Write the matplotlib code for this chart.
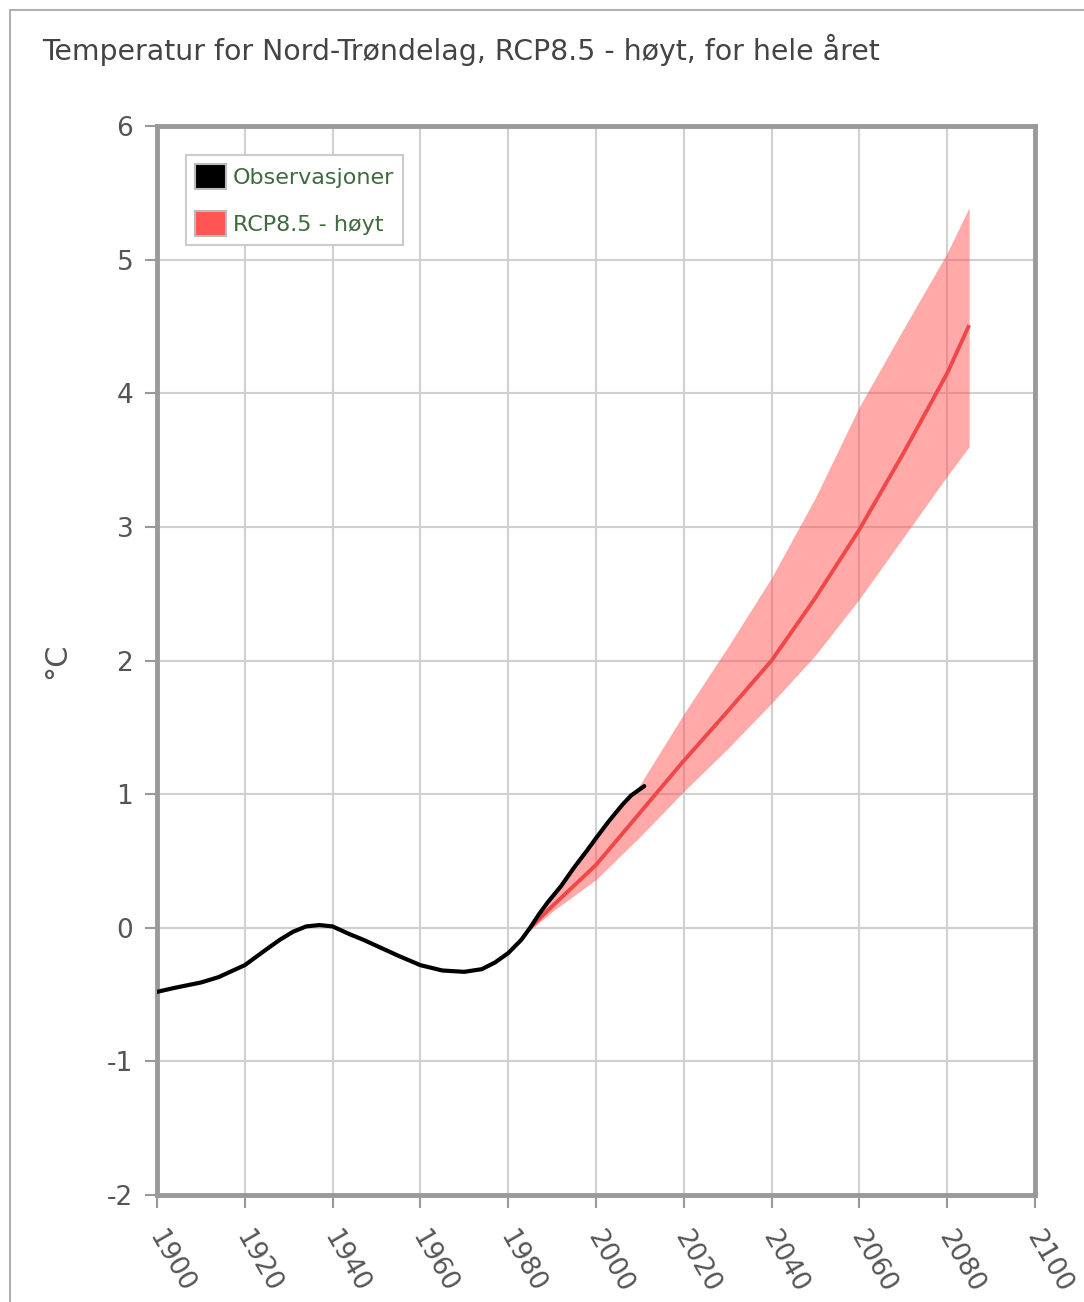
import matplotlib
matplotlib.use("Agg")
import matplotlib.pyplot as plt
from matplotlib.patches import Patch, Rectangle
import matplotlib.transforms as mtransforms

# Data
obs_years = [1900, 1904, 1910, 1914, 1920, 1925, 1928, 1931, 1934, 1937, 1940, 1944,
             1947, 1951, 1955, 1960, 1965, 1970, 1974, 1977, 1980, 1983, 1985, 1987,
             1989, 1992, 1995, 1998, 2000, 2003, 2006, 2008, 2011]
obs_values = [-0.48, -0.45, -0.41, -0.37, -0.28, -0.16, -0.09, -0.03, 0.01, 0.02, 0.01, -0.05,
              -0.09, -0.15, -0.21, -0.28, -0.32, -0.33, -0.31, -0.26, -0.19, -0.09, 0.00, 0.10,
              0.19, 0.31, 0.45, 0.58, 0.67, 0.80, 0.92, 0.99, 1.06]

rcp_years = [1985, 1990, 2000, 2010, 2020, 2030, 2040, 2050, 2060, 2070, 2080, 2085]
rcp_mid = [0.00, 0.16, 0.47, 0.86, 1.25, 1.62, 2.00, 2.47, 2.98, 3.55, 4.15, 4.51]
rcp_high = [0.02, 0.22, 0.66, 1.07, 1.60, 2.10, 2.62, 3.22, 3.90, 4.48, 5.05, 5.39]
rcp_low = [-0.02, 0.12, 0.36, 0.68, 1.02, 1.34, 1.68, 2.04, 2.46, 2.92, 3.38, 3.60]

x_ticks = list(range(1900, 2101, 20))
y_ticks = list(range(-2, 7))

title = "Temperatur for Nord-Trøndelag, RCP8.5 - høyt, for hele året"
legend_labels = ["Observasjoner", "RCP8.5 - høyt"]

plt.rcParams["font.family"] = ["DejaVu Sans"]

fig = plt.figure(figsize=(10.84, 13.02), dpi=100)
ax = fig.add_axes([0.1448, 0.0822, 0.8100, 0.8210])

# outer frame of the chart box
fig.add_artist(Rectangle((10 / 1084, -0.1), 2.0, 1 - 10 / 1302 + 0.1,
                         transform=fig.transFigure, fill=False,
                         edgecolor="#b0b0b0", linewidth=1.5))

ax.fill_between(rcp_years, rcp_low, rcp_high, color="#ff5555", alpha=0.5,
                linewidth=0, zorder=2)
ax.plot(rcp_years, rcp_mid, color="#f04848", linewidth=2.8, zorder=3,
        solid_capstyle="butt", solid_joinstyle="round")
ax.plot(obs_years, obs_values, color="black", linewidth=3.0, zorder=4,
        solid_capstyle="round", solid_joinstyle="round")

ax.set_xlim(1900, 2100)
ax.set_ylim(-2, 6)
ax.set_xticks(x_ticks)
ax.set_yticks(y_ticks)
ax.grid(True, color="#d0d0d0", linewidth=1.5, zorder=0)
ax.set_axisbelow(True)

for s in ax.spines.values():
    s.set_color("#9a9a9a")
    s.set_linewidth(3.5)

ax.tick_params(axis="both", colors="#9a9a9a", length=9, width=1.5)
ax.tick_params(axis="y", labelcolor="#555555", labelsize=19, pad=8)
ax.set_yticklabels([str(v) for v in y_ticks])
ax.set_xticklabels([str(v) for v in x_ticks], rotation=-60, ha="left", va="top",
                   rotation_mode="anchor", color="#555555", fontsize=19)
ax.tick_params(axis="x", pad=13)
shift = mtransforms.ScaledTranslation(8 / 100, 0, fig.dpi_scale_trans)
for lab in ax.get_xticklabels():
    lab.set_transform(lab.get_transform() + shift)

ax.set_ylabel("°C", fontsize=22, color="#555555", labelpad=26)

handles = [Patch(facecolor="black", edgecolor="#bbbbbb", linewidth=1.5),
           Patch(facecolor="#ff5555", edgecolor="#bbbbbb", linewidth=1.5)]
leg = ax.legend(handles, legend_labels, loc="upper left",
                bbox_to_anchor=(0.033, 0.973), borderaxespad=0, fontsize=16,
                handlelength=1.4, handleheight=1.4, handletextpad=0.3,
                labelspacing=0.95, borderpad=0.4, fancybox=False,
                framealpha=1, edgecolor="#cccccc")
leg.get_frame().set_linewidth(1.5)
for t in leg.get_texts():
    t.set_color("#3d6b3d")

fig.text(42 / 1084, 1 - 50 / 1302, title, fontsize=20.4, color="#444444",
         ha="left", va="center")

fig.savefig("out.png", dpi=100, facecolor="white")
